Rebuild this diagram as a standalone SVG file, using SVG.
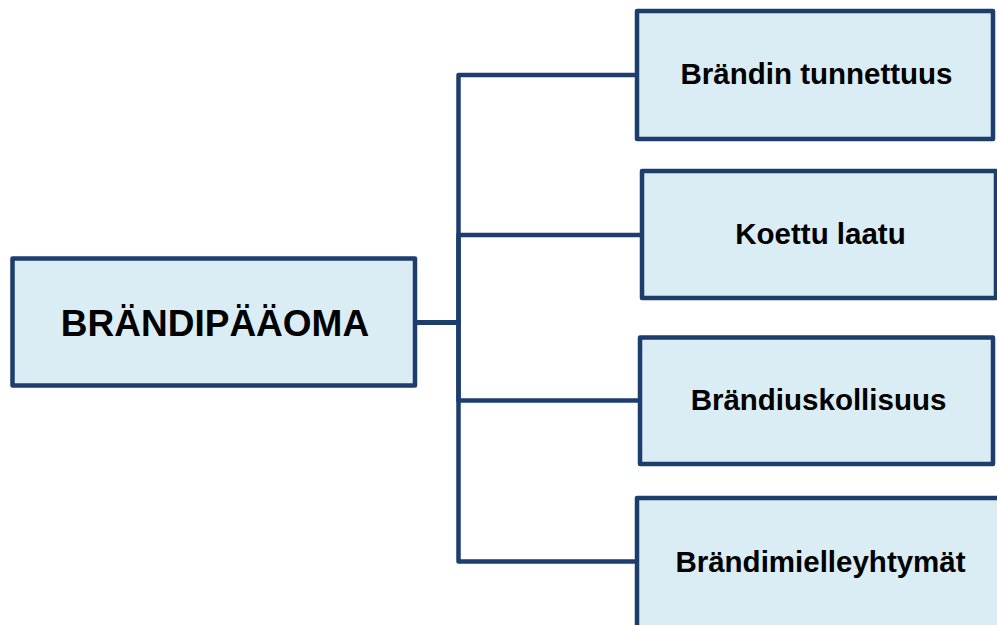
<svg xmlns="http://www.w3.org/2000/svg" width="997" height="625" viewBox="0 0 997 625">
<style>
.box{fill:#daedf4;stroke:#1d3e6c;stroke-width:4.5;stroke-linejoin:round}
.conn{fill:none;stroke:#1d3e6c;stroke-width:4.5;stroke-linejoin:round}
.t{font-family:"Liberation Sans",Arial,sans-serif;font-weight:bold;fill:#000;text-anchor:middle}
.s{font-size:29.5px}
.m{font-size:37px}
</style>
<rect width="997" height="625" fill="#ffffff"/>
<g id="connectors">
<path class="conn" d="M415 322.5 H458.5 V75 H637"/>
<path class="conn" d="M415 322.5 H458.5 V235 H642"/>
<path class="conn" d="M415 322.5 H458.5 V400.5 H640"/>
<path class="conn" d="M415 322.5 H458.5 V561.5 H637"/>
</g>
<g id="n0">
<rect class="box" x="12.5" y="258.5" width="402.5" height="127"/>
<text class="t m" x="215" y="336">BRÄNDIPÄÄOMA</text>
</g>
<g id="n1">
<rect class="box" x="637" y="11" width="356" height="128"/>
<text class="t s" x="816.5" y="83.5">Brändin tunnettuus</text>
</g>
<g id="n2">
<rect class="box" x="642" y="171" width="354" height="127"/>
<text class="t s" x="820.5" y="244">Koettu laatu</text>
</g>
<g id="n3">
<rect class="box" x="640" y="337.5" width="353" height="126.5"/>
<text class="t s" x="818.5" y="409.5">Brändiuskollisuus</text>
</g>
<g id="n4">
<rect class="box" x="637" y="498" width="364" height="130"/>
<text class="t s" x="820.5" y="572">Brändimielleyhtymät</text>
</g>
</svg>
